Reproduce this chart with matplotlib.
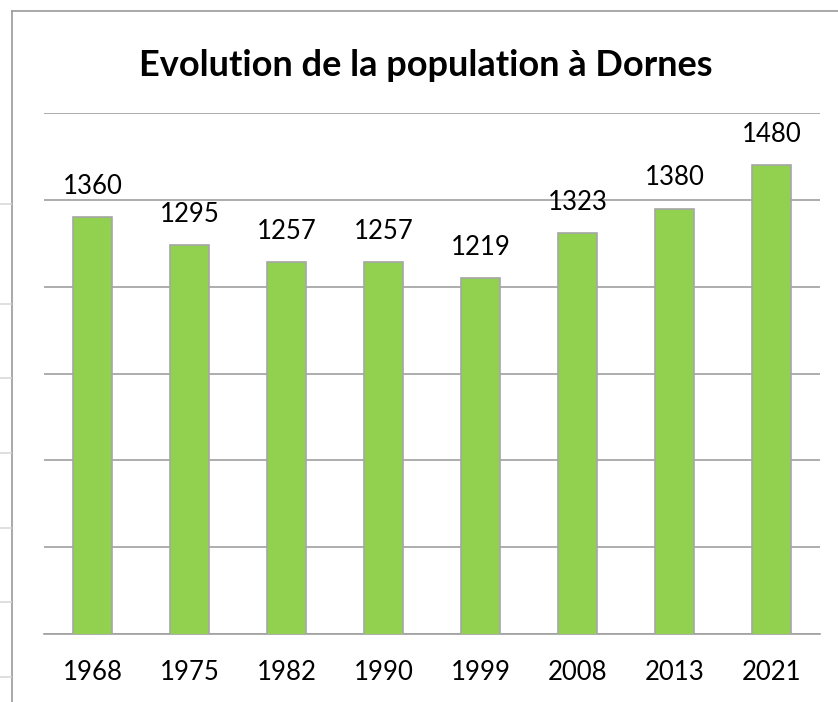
import matplotlib.pyplot as plt
from matplotlib.lines import Line2D

years = ["1968", "1975", "1982", "1990", "1999", "2008", "2013", "2021"]
population = [1360, 1295, 1257, 1257, 1219, 1323, 1380, 1480]
y_grid = [400, 600, 800, 1000, 1200, 1400, 1600]

plt.rcParams["font.family"] = ["Lato", "DejaVu Sans"]

fig = plt.figure(figsize=(8.38, 7.02), dpi=100)
ax = fig.add_axes([44 / 838, 1 - 634 / 702, 776 / 838, 521 / 702])

x = range(len(years))
bars = ax.bar(x, population, width=0.4, color="#92D050", edgecolor="#A6A6A6",
              linewidth=1.2, zorder=3, bottom=0)
for xi, v in zip(x, population):
    ax.annotate(str(v), (xi, v), xytext=(0, 13), textcoords="offset points",
                ha="center", va="bottom", fontsize=18.5, color="black")

ax.set_xlim(-0.5, len(years) - 0.5)
ax.set_ylim(400, 1600)
ax.set_yticks(y_grid)
ax.set_yticklabels([])
ax.yaxis.grid(True, color="#A0A0A0", linewidth=1.2, zorder=0)
ax.tick_params(axis="y", length=0)
ax.set_xticks(list(x))
ax.set_xticklabels(years, fontsize=18.5)
ax.tick_params(axis="x", length=0, pad=19)
for s in ["top", "right", "left"]:
    ax.spines[s].set_visible(False)
ax.spines["bottom"].set_color("#A0A0A0")
ax.spines["bottom"].set_linewidth(1.2)

fig.text(426 / 838, 1 - 65 / 702, "Evolution de la population à Dornes",
         ha="center", va="center", fontsize=26, fontweight="bold")

# chart frame and spreadsheet leftovers
fig.add_artist(Line2D([12 / 838, 12 / 838], [0, 1 - 11 / 702], color="#9A9A9A", lw=1.2))
fig.add_artist(Line2D([12 / 838, 1], [1 - 11 / 702, 1 - 11 / 702], color="#9A9A9A", lw=1.2))
for yy in [204, 304, 378, 453, 528, 602, 677]:
    fig.add_artist(Line2D([0, 11 / 838], [1 - yy / 702, 1 - yy / 702], color="#D9D9D9", lw=1.2))

fig.savefig("out.png", dpi=100)
